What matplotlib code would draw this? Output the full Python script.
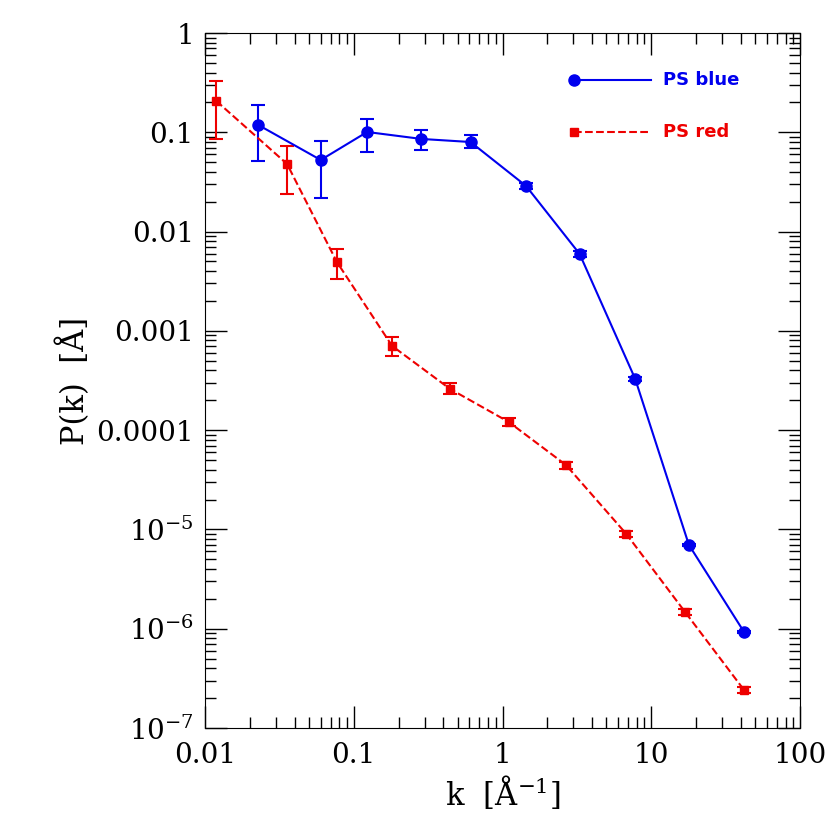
import matplotlib
matplotlib.use("Agg")
import matplotlib.pyplot as plt
import numpy as np
from matplotlib.ticker import FixedLocator, LogLocator, NullFormatter

blue_k = [0.0227, 0.060, 0.123, 0.285, 0.61, 1.44, 3.3, 7.8, 17.9, 42]
blue_p = [0.119, 0.0526, 0.1007, 0.0857, 0.0798, 0.0288, 0.00595, 3.28e-4, 7.0e-6, 9.3e-7]
blue_hi = [0.19, 0.082, 0.137, 0.105, 0.093, 0.031, 0.0063, 3.4e-4, 7.2e-6, 9.5e-7]
blue_lo = [0.051, 0.022, 0.063, 0.066, 0.070, 0.0268, 0.0056, 3.15e-4, 6.8e-6, 9.1e-7]

red_k = [0.0119, 0.0356, 0.077, 0.181, 0.444, 1.1, 2.67, 6.8, 16.9, 42]
red_p = [0.207, 0.048, 0.00494, 7.05e-4, 2.6e-4, 1.21e-4, 4.46e-5, 9.0e-6, 1.47e-6, 2.42e-7]
red_hi = [0.33, 0.073, 0.0067, 8.6e-4, 2.95e-4, 1.32e-4, 4.8e-5, 9.6e-6, 1.57e-6, 2.6e-7]
red_lo = [0.086, 0.024, 0.0033, 5.6e-4, 2.3e-4, 1.1e-4, 4.1e-5, 8.4e-6, 1.37e-6, 2.26e-7]

yticks = [1e-7, 1e-6, 1e-5, 1e-4, 1e-3, 1e-2, 1e-1, 1]
ylabels = [r"$10^{-7}$", r"$10^{-6}$", r"$10^{-5}$", "0.0001", "0.001", "0.01", "0.1", "1"]
xticks = [0.01, 0.1, 1, 10, 100]
xlabels = ["0.01", "0.1", "1", "10", "100"]

plt.rcParams["font.family"] = "DejaVu Serif"
plt.rcParams["mathtext.fontset"] = "dejavuserif"
fig = plt.figure(figsize=(8.3, 8.3), dpi=100)
ax = fig.add_axes([205/830, 1-728/830, 595/830, 695/830])

def err(p, hi, lo):
    p = np.array(p); return [p - np.array(lo), np.array(hi) - p]

ax.errorbar(blue_k, blue_p, yerr=err(blue_p, blue_hi, blue_lo), color="#0000ee", marker="o",
            ms=8, lw=1.5, capsize=5, elinewidth=1.5, capthick=1.5)
ax.errorbar(red_k, red_p, yerr=err(red_p, red_hi, red_lo), color="#ee0000", marker="s",
            ms=6, lw=1.5, ls="--", capsize=5, elinewidth=1.5, capthick=1.5)
ax.set_xscale("log"); ax.set_yscale("log")
ax.set_xlim(0.01, 100); ax.set_ylim(1e-7, 1)
ax.yaxis.set_major_locator(FixedLocator(yticks)); ax.set_yticklabels(ylabels)
ax.xaxis.set_major_locator(FixedLocator(xticks)); ax.set_xticklabels(xlabels)
for a in (ax.xaxis, ax.yaxis):
    a.set_minor_locator(LogLocator(base=10, subs=np.arange(2, 10)))
    a.set_minor_formatter(NullFormatter())
ax.tick_params(which="both", direction="in", top=True, right=True, labelsize=20)
ax.tick_params(which="major", length=16, width=1)
ax.tick_params(which="minor", length=8, width=1)
ax.tick_params(axis="x", pad=10)
ax.tick_params(axis="y", pad=8)
ax.set_xlabel(r"k  [Å$^{-1}$]", fontsize=22)
ax.set_ylabel(r"P(k)  [Å]", fontsize=22)

ax.plot([0.62, 0.75], [0.933, 0.933], transform=ax.transAxes, color="#0000ee", lw=1.5)
ax.plot([0.62], [0.933], transform=ax.transAxes, marker="o", color="#0000ee", ms=8)
ax.text(0.77, 0.933, "PS blue", transform=ax.transAxes, color="#0000ee", fontsize=13,
        fontweight="bold", va="center", family="DejaVu Sans")
ax.plot([0.62, 0.75], [0.857, 0.857], transform=ax.transAxes, color="#ee0000", lw=1.5, ls="--")
ax.plot([0.62], [0.857], transform=ax.transAxes, marker="s", color="#ee0000", ms=6)
ax.text(0.77, 0.857, "PS red", transform=ax.transAxes, color="#ee0000", fontsize=13,
        fontweight="bold", va="center", family="DejaVu Sans")
fig.savefig("out.png", dpi=100)
